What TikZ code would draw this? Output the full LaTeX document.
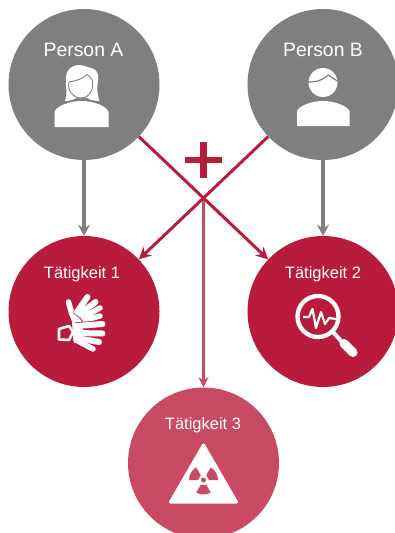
\documentclass[tikz,border=0pt]{standalone}
\usepackage{fontspec}
\setmainfont{Liberation Sans}
\usepackage{xcolor}
\usetikzlibrary{arrows.meta,calc}
\definecolor{kreisgrau}{HTML}{7F7F7F}
\definecolor{kreisrot}{HTML}{B91C3A}
\definecolor{kreisrosa}{HTML}{C94A63}
\tikzset{
	kreis/.style={circle, minimum size=151pt, inner sep=0pt, draw=none},
	titel/.style={text=white, inner sep=0pt, font=\fontsize{16.5}{18}\selectfont},
	pfeilgrau/.style={line width=3.6pt, draw=kreisgrau, -{Stealth[length=11pt,width=12pt]}},
	pfeilrot/.style={line width=3pt, draw=kreisrot, -{Stealth[length=12pt,width=12pt]}},
	pfeilrosa/.style={line width=3pt, draw=kreisrosa, -{Stealth[length=10pt,width=10pt]}},
	finger/.style={line width=#1, line cap=round, draw=white},
	luecke/.style={line width=#1, line cap=round, draw=kreisrot}
}
\begin{document}
\begin{tikzpicture}[x=1pt,y=-1pt]
	\useasboundingbox (0,0) rectangle (395,533);
	\clip (0,0) rectangle (395,533);
	% circles
	\node [kreis, fill=kreisgrau] (personA) at (84,84.5) {};
	\node [kreis, fill=kreisgrau] (personB) at (323,84.5) {};
	\node [kreis, fill=kreisrot] (taet1) at (84,311.5) {};
	\node [kreis, fill=kreisrot] (taet2) at (323,311.5) {};
	\node [kreis, fill=kreisrosa] (taet3) at (203.5,463) {};
	\coordinate (kreuz) at ($(personA)!0.5!(taet2)$);
	% connectors
	\draw [pfeilrosa] (kreuz) -- (taet3);
	\draw [pfeilgrau] (personA) -- (taet1);
	\draw [pfeilgrau] (personB) -- (taet2);
	\draw [pfeilrot] (personA) -- (taet2);
	\draw [pfeilrot] (personB) -- (taet1);
	% plus
	\draw [line width=6.5pt, draw=kreisrot] (185,160) -- (222,160);
	\draw [line width=6.5pt, draw=kreisrot] (203.5,142) -- (203.5,178);
	% labels
	\node [titel, font=\fontsize{19.4}{21}\selectfont] (labelA) at (83.5,49.5) {Person A};
	\node [titel, font=\fontsize{19.4}{21}\selectfont] (labelB) at (323,49.5) {Person B};
	\node [titel] (label1) at (82,274) {Tätigkeit 1};
	\node [titel] (label2) at (323,274) {Tätigkeit 2};
	\node [titel] (label3) at (203,425) {Tätigkeit 3};
	% woman
	\fill [white] (54.5,127) -- (54.5,112) .. controls (56,106) and (70,101) .. (81.5,101) .. controls (93,101) and (107,106) .. (108.5,112) -- (108.5,127) -- cycle;
	\fill [white] (65,101) .. controls (68,92) and (65,85) .. (66,77) .. controls (67,68) and (73,65) .. (79,65) .. controls (85,65) and (88,68) .. (92,68) .. controls (97,70) and (99,74) .. (98,80) .. controls (97,88) and (97,95) .. (99.5,101) .. controls (95,101) and (90,100) .. (87,98) -- (76,98) .. controls (73,100) and (69,101) .. (65,101) -- cycle;
	\draw [line width=0.9pt, kreisgrau, fill=white] (69,82) .. controls (67,90) and (73,98) .. (81,98) .. controls (89,98) and (94,90) .. (92.5,81) .. controls (91,78) and (90,76) .. (87,74.5) .. controls (83,79) and (75,81) .. (69,82) -- cycle;
	% man
	\fill [white] (297,126) -- (297,111) .. controls (299,106) and (311,101) .. (323,101) .. controls (335,101) and (347,106) .. (349.5,111) -- (349.5,126) -- cycle;
	\fill [white] (323,82.5) circle [radius=14.5];
	\draw [line width=1.2pt, kreisgrau] (308,82) .. controls (316,82) and (322,81) .. (328,75) .. controls (331,77) and (334,79) .. (337.5,81);
	% hands
	\fill [white] (67,300) -- (72,311) -- (78,308) -- (90,318) -- (84,324) -- (73,324) -- (69,314) -- cycle;
	\draw [finger=5.5pt] (68.5,302) -- (72,314);
	\draw [luecke=7.5pt] (77,312) -- (87.5,297);
	\draw [luecke=7.5pt] (80,314) -- (95.5,302);
	\draw [luecke=7.5pt] (83,317) -- (100,308);
	\draw [luecke=7.5pt] (85,320) -- (100,316);
	\draw [finger=6pt] (77,312) -- (87.5,297);
	\draw [finger=6pt] (80,314) -- (95.5,302);
	\draw [finger=5.5pt] (83,317) -- (100,308);
	\draw [finger=5.5pt] (85,320) -- (100,316);
	\draw [luecke=7.5pt] (76,326) -- (102.5,324);
	\draw [luecke=7.5pt] (76,333) -- (102.5,333.5);
	\draw [luecke=7.5pt] (76,338) -- (99,342);
	\draw [luecke=7.5pt] (76,340) -- (93,349);
	\draw [finger=6pt] (76,326) -- (102.5,324);
	\draw [finger=6pt] (76,333) -- (102.5,333.5);
	\draw [finger=6pt] (76,338) -- (99,342);
	\draw [finger=5.5pt] (76,340) -- (93,349);
	\fill [white] (72,323) -- (82,323) -- (84,338) -- (74,343) -- cycle;
	\draw [line width=2.6pt, white, fill=kreisrot, line join=round] (59,329) -- (69,326) -- (73,332) -- (69,340) -- (59,339.5) -- cycle;
	% magnifier
	\draw [line width=4.3pt, white] (318,316.5) circle [radius=20.5];
	\draw [line width=2.2pt, white, line join=round] (303,317) -- (309,317) -- (312.5,309) -- (316,328) -- (321,312) -- (325,324) -- (329,318) -- (336,319);
	\draw [line width=4pt, white] (333,332) -- (342,342);
	\draw [line width=9pt, white, line cap=round] (344,343.5) -- (353,352.5);
	% radiation sign
	\fill [white, draw=white, line width=3pt, line join=round] (203.5,445) -- (170.5,502) -- (236.5,502) -- cycle;
	\coordinate (strahl) at (203.5,480);
	\foreach \winkel in {90,210,330} {
		\fill [kreisrosa] ($(strahl)+(\winkel-30:5.5)$) -- ($(strahl)+(\winkel-30:14.5)$) arc [start angle=\winkel-30, delta angle=60, radius=14.5] -- ($(strahl)+(\winkel+30:5.5)$) -- cycle;
	}
	\fill [kreisrosa] (strahl) circle [radius=2.5];
\end{tikzpicture}
\end{document}
